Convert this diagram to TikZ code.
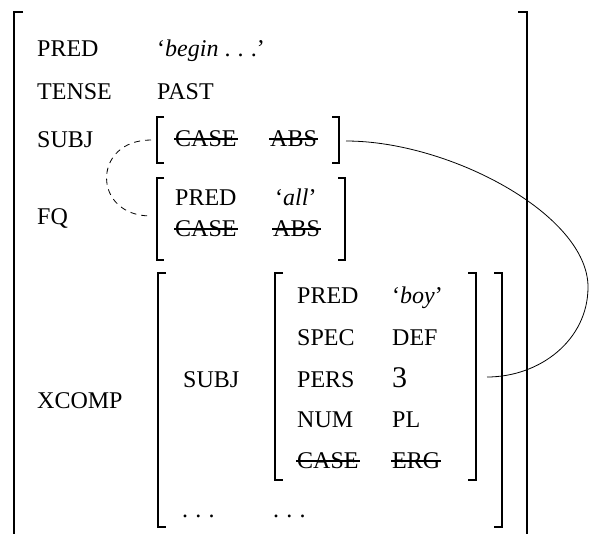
\documentclass[tikz,border=0pt]{standalone}
\usepackage{fontspec}
\setmainfont{Liberation Serif}
\newcommand\xstrike[1]{\setbox0\hbox{#1}\rlap{\kern-1pt\rule[6.5pt]{\dimexpr\wd0+2pt\relax}{1.8pt}}\box0}
\newcommand\sdots{.\kern0.3em.\kern0.3em.}
\begin{document}
\begin{tikzpicture}[x=1pt,y=-1pt,
  font=\fontsize{24}{28}\selectfont,
  lbl/.style={anchor=base west, inner sep=0pt},
  brk/.style={line width=1.2pt},
  link/.style={line width=0.8pt},
  dlink/.style={line width=0.8pt, dash pattern=on 6pt off 5pt}]
\useasboundingbox (0,0) rectangle (589,533);
% outer bracket
\draw[brk] (23,12) -- (14,12) -- (14,540);
\draw[brk] (518,12) -- (527,12) -- (527,540);
% top level
\node[lbl] (pred) at (37,56) {PRED};
\node[lbl] (predv) at (157,56) {‘\textit{begin} \sdots’};
\node[lbl] (tense) at (37,99) {TENSE};
\node[lbl] (tensev) at (157,99) {PAST};
\node[lbl] (subj) at (37,147) {SUBJ};
\node[lbl] (fq) at (37,224) {FQ};
\node[lbl] (xcomp) at (37,408) {XCOMP};
% SUBJ f-structure
\draw[brk] (164,117) -- (157,117) -- (157,163) -- (164,163);
\draw[brk] (332,117) -- (339,117) -- (339,163) -- (332,163);
\node[lbl] (scase) at (175,146) {\xstrike{CASE}};
\node[lbl] (sabs) at (270,146) {\xstrike{ABS}};
\coordinate (sl) at (151,140);
\coordinate (sr) at (346,141);
% FQ f-structure
\draw[brk] (164,178) -- (157,178) -- (157,260) -- (164,260);
\draw[brk] (338,178) -- (345,178) -- (345,260) -- (338,260);
\node[lbl] (fpred) at (175,205) {PRED};
\node[lbl] (fpredv) at (275,205) {‘\textit{all}’};
\node[lbl] (fcase) at (175,236) {\xstrike{CASE}};
\node[lbl] (fabs) at (273,236) {\xstrike{ABS}};
\coordinate (fl) at (151,216);
% XCOMP f-structure
\draw[brk] (166,273) -- (158,273) -- (158,527) -- (166,527);
\draw[brk] (494,273) -- (502,273) -- (502,527) -- (494,527);
\node[lbl] (xsubj) at (183,387) {SUBJ};
\node[lbl] (xd1) at (182,517) {\sdots};
\node[lbl] (xd2) at (273,517) {\sdots};
% inner SUBJ
\draw[brk] (283,273) -- (275,273) -- (275,480) -- (283,480);
\draw[brk] (468,273) -- (476,273) -- (476,480) -- (468,480);
\node[lbl] (ipred) at (297,303) {PRED};
\node[lbl] (ipredv) at (392,303) {‘\textit{boy}’};
\node[lbl] (ispec) at (297,345) {SPEC};
\node[lbl] (ispecv) at (392,345) {DEF};
\node[lbl] (ipers) at (297,387) {PERS};
\node[lbl] (ipersv) at (392,387) {\fontsize{30}{32}\selectfont 3};
\node[lbl] (inum) at (297,427) {NUM};
\node[lbl] (inumv) at (392,427) {PL};
\node[lbl] (icase) at (297,468) {\xstrike{CASE}};
\node[lbl] (icasev) at (392,468) {\xstrike{ERG}};
\coordinate (ir) at (487,377);
% connectors
\draw[dlink] (sl) to[out=180,in=180,looseness=2] (fl);
\draw[link] (sr) .. controls (450,141) and (588,215) .. (588,287)
  .. controls (588,340) and (540,377) .. (ir);
\end{tikzpicture}
\end{document}
